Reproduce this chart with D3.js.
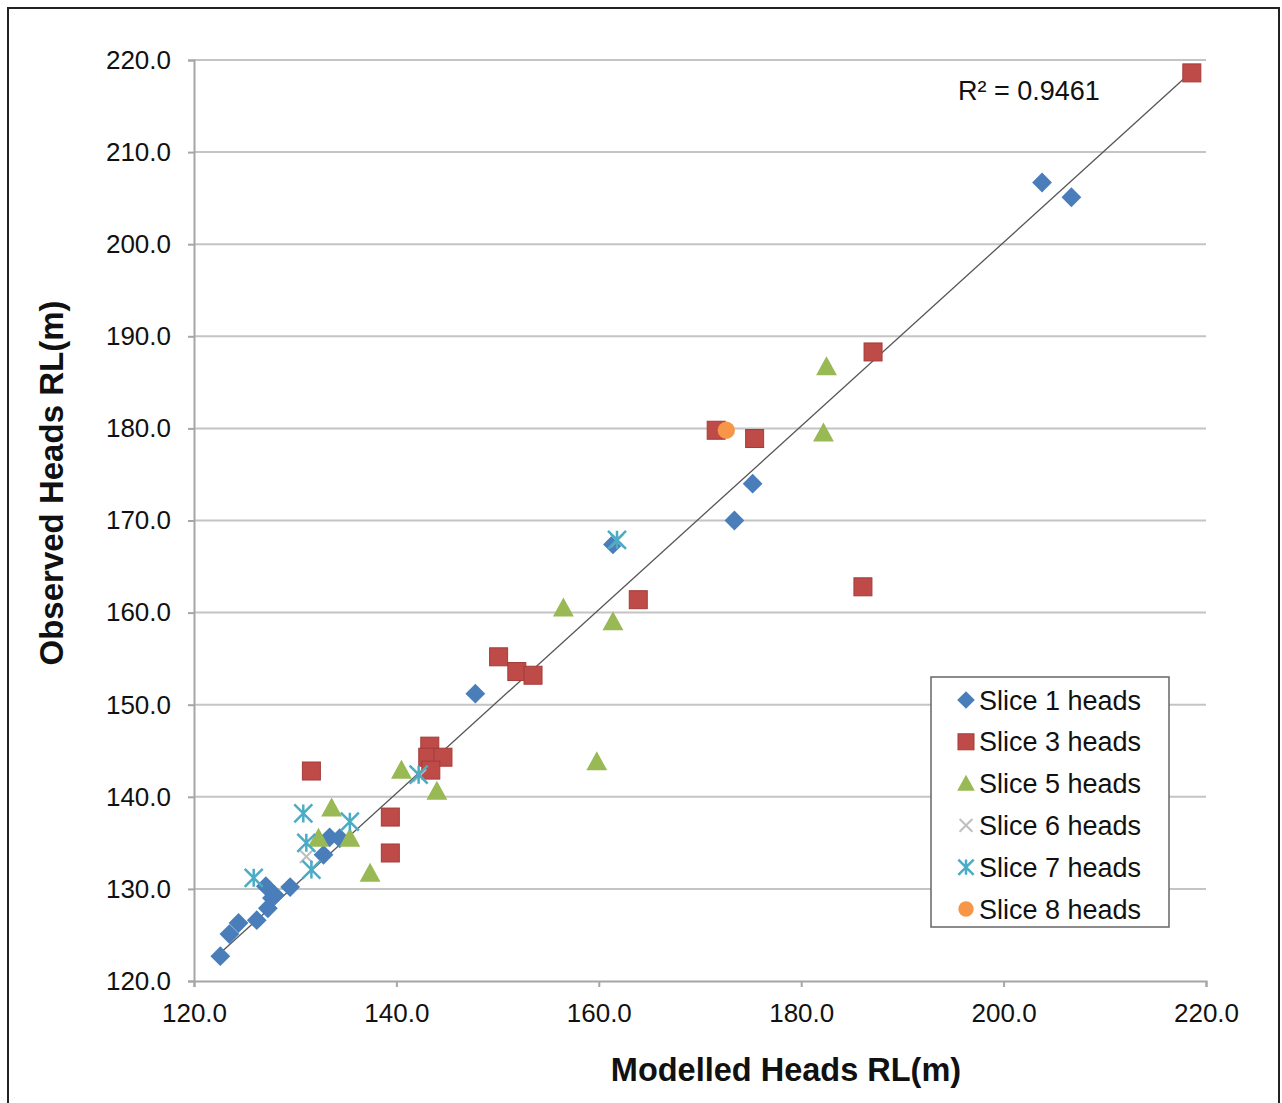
<!DOCTYPE html>
<html>
<head>
<meta charset="utf-8">
<script src="https://cdn.jsdelivr.net/npm/d3@7"></script>
<style>
  body { margin: 0; background: #fff; }
  svg { display: block; }
  text { font-family: "Liberation Sans", Arial, sans-serif; }
</style>
</head>
<body>
<svg id="chart" width="1282" height="1103"></svg>
<script>
// ---- data (modelled x, observed y) ----
const slice1 = [
  [122.6,122.7],[123.5,125.1],[124.4,126.3],[126.2,126.6],[127.3,127.9],[127.7,129.0],
  [127.1,130.3],[128.0,129.3],[129.5,130.2],[132.8,133.7],[133.4,135.6],[134.4,135.5],
  [147.8,151.2],[161.4,167.4],[173.4,170.0],[175.2,174.0],[203.8,206.7],[206.7,205.1]
];
const slice3 = [
  [131.6,142.8],[139.4,137.8],[139.4,133.9],[143.3,145.5],[143.1,144.3],[144.6,144.3],
  [143.4,142.9],[150.1,155.2],[151.9,153.6],[153.5,153.2],[163.9,161.4],[171.6,179.8],
  [175.4,178.9],[186.1,162.8],[187.1,188.3],[218.6,218.6]
];
const slice5 = [
  [132.3,135.5],[133.6,138.8],[135.4,135.5],[137.4,131.7],[140.5,142.9],[144.0,140.6],
  [156.5,160.5],[159.8,143.8],[161.4,159.0],[182.2,179.5],[182.5,186.7]
];
const slice6 = [[131.1,133.5],[142.3,142.3],[161.8,167.8]];
const slice7 = [
  [125.9,131.2],[130.8,138.2],[131.1,135.0],[131.6,132.1],[135.4,137.3],[142.2,142.4],[161.8,167.9]
];
const slice8 = [[172.6,179.8]];
const seriesNames = ["Slice 1 heads","Slice 3 heads","Slice 5 heads","Slice 6 heads","Slice 7 heads","Slice 8 heads"];
const xTicks = [120,140,160,180,200,220];
const yTicks = [120,130,140,150,160,170,180,190,200,210,220];
// linear trendline: y = slope*x + intercept
const trendSlope = 0.997;
const trendIntercept = 0.8;
const r2Label = "R\u00B2 = 0.9461";
const xTitle = "Modelled Heads RL(m)";
const yTitle = "Observed Heads RL(m)";

const svg = d3.select("#chart");
const L = 194, R = 1206, T = 60, B = 981;
const x = d3.scaleLinear().domain([120,220]).range([L,R]);
const y = d3.scaleLinear().domain([120,220]).range([B,T]);

// outer frame
svg.append("rect").attr("x",8).attr("y",8).attr("width",1271).attr("height",1110)
  .attr("fill","none").attr("stroke","#222").attr("stroke-width",2);

// gridlines
svg.append("g").selectAll("line").data(yTicks.filter(d=>d>120)).join("line")
  .attr("x1",L).attr("x2",R).attr("y1",d=>y(d)).attr("y2",d=>y(d))
  .attr("stroke","#c4c4c4").attr("stroke-width",2);

// axes
const yAxis = d3.axisLeft(y).tickValues(yTicks).tickFormat(d3.format(".1f")).tickSize(6).tickPadding(17);
const xAxis = d3.axisBottom(x).tickValues(xTicks).tickFormat(d3.format(".1f")).tickSize(6).tickPadding(17);
const gy = svg.append("g").attr("transform",`translate(${L},0)`).call(yAxis);
const gx = svg.append("g").attr("transform",`translate(0,${B})`).call(xAxis);
[gx,gy].forEach(g=>{
  g.select(".domain").attr("stroke","#a6a6a6").attr("stroke-width",2);
  g.selectAll(".tick line").attr("stroke","#a6a6a6").attr("stroke-width",2);
  g.selectAll(".tick text").attr("font-size",26).attr("fill","#111")
   .style("font-family","'Liberation Sans', Arial, sans-serif");
});

// trendline
const all = [].concat(slice1,slice3,slice5,slice6,slice7,slice8);
const xe = d3.extent(all,d=>d[0]);
svg.append("line")
  .attr("x1",x(xe[0])).attr("y1",y(trendIntercept+trendSlope*xe[0]))
  .attr("x2",x(xe[1])).attr("y2",y(trendIntercept+trendSlope*xe[1]))
  .attr("stroke","#555").attr("stroke-width",1.3);

// marker generators
const colors = ["#4a7ebb","#be4b48","#98b954","#bfbfbf","#4bacc6","#f79646"];
function drawMarker(g, type, cx, cy, s) {
  if (type === 0) { // diamond
    g.append("path").attr("d",`M${cx},${cy-s*0.55}L${cx+s*0.55},${cy}L${cx},${cy+s*0.55}L${cx-s*0.55},${cy}Z`)
      .attr("fill",colors[0]);
  } else if (type === 1) { // square
    g.append("rect").attr("x",cx-s/2).attr("y",cy-s/2).attr("width",s).attr("height",s)
      .attr("fill",colors[1]).attr("stroke","#a33c39").attr("stroke-width",1);
  } else if (type === 2) { // triangle
    g.append("path").attr("d",`M${cx},${cy-s*0.55}L${cx+s*0.55},${cy+s*0.45}L${cx-s*0.55},${cy+s*0.45}Z`)
      .attr("fill",colors[2]);
  } else if (type === 3) { // X
    const h = s*0.4;
    g.append("path").attr("d",`M${cx-h},${cy-h}L${cx+h},${cy+h}M${cx+h},${cy-h}L${cx-h},${cy+h}`)
      .attr("stroke",colors[3]).attr("stroke-width",2).attr("fill","none");
  } else if (type === 4) { // asterisk
    const h = s*0.45;
    g.append("path").attr("d",`M${cx-h},${cy-h}L${cx+h},${cy+h}M${cx+h},${cy-h}L${cx-h},${cy+h}M${cx},${cy-h}L${cx},${cy+h}`)
      .attr("stroke",colors[4]).attr("stroke-width",2.5).attr("fill","none");
  } else { // circle
    g.append("circle").attr("cx",cx).attr("cy",cy).attr("r",s*0.48).attr("fill",colors[5]);
  }
}
const seriesData = [slice1,slice3,slice5,slice6,slice7,slice8];
const sizes = [18,18,19,16,20,18];
const pts = svg.append("g");
seriesData.forEach((data,i)=>{
  data.forEach(d=>drawMarker(pts,i,x(d[0]),y(d[1]),sizes[i]));
});

// R² label
svg.append("text").attr("x",958).attr("y",100).attr("font-size",27).attr("fill","#111").text(r2Label);

// legend
const lg = svg.append("g");
lg.append("rect").attr("x",931).attr("y",677).attr("width",238).attr("height",250)
  .attr("fill","#fff").attr("stroke","#666").attr("stroke-width",1.5);
seriesNames.forEach((name,i)=>{
  const cy = 700 + i*41.8;
  drawMarker(lg,i,966,cy,i===4?17:16);
  lg.append("text").attr("x",979).attr("y",cy+9.5).attr("font-size",27).attr("fill","#111").text(name);
});

// axis titles
svg.append("text").attr("x",786).attr("y",1081).attr("text-anchor","middle")
  .attr("font-size",32.5).attr("font-weight","bold").attr("fill","#111").text(xTitle);
svg.append("text").attr("transform","translate(63,483) rotate(-90)").attr("text-anchor","middle")
  .attr("font-size",33).attr("font-weight","bold").attr("fill","#111").text(yTitle);
</script>
</body>
</html>
